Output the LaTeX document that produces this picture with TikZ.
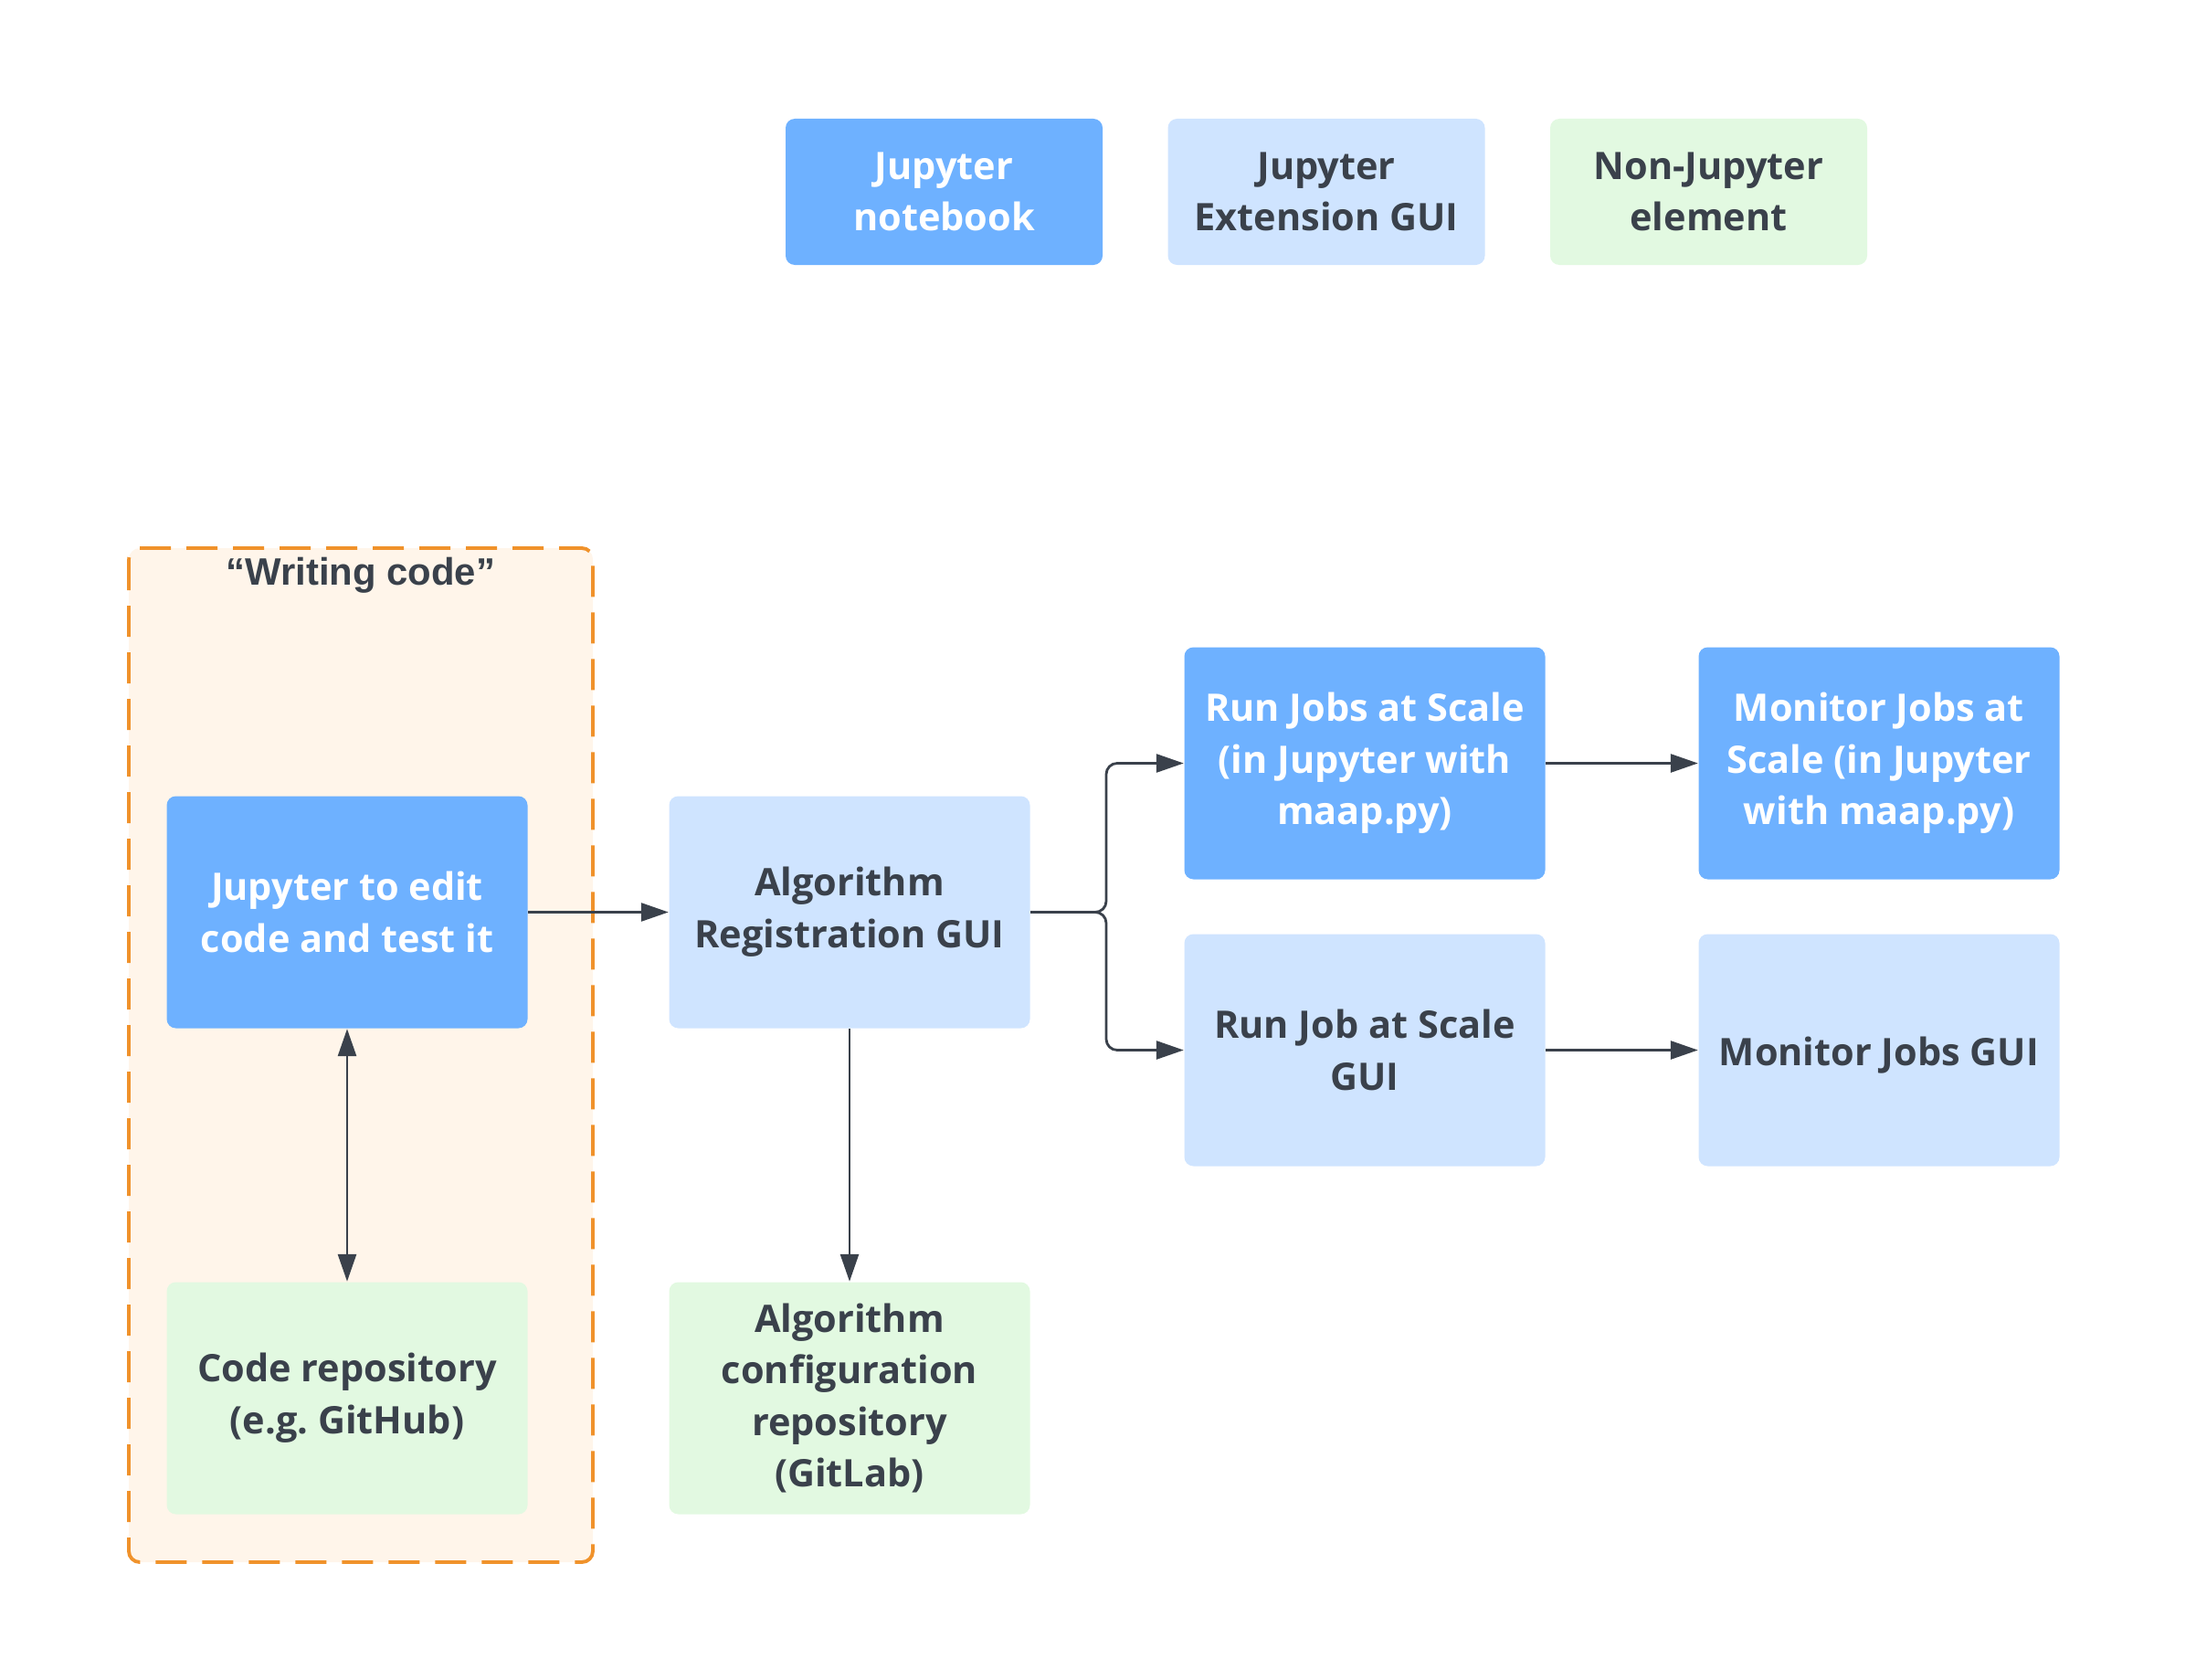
\documentclass[tikz,border=0pt]{standalone}
\usepackage{fontspec}
\setmainfont{Open Sans}
\newfontfamily\labelfont{Liberation Sans}
\usepackage{xcolor}
\usepackage{tikz}
\usetikzlibrary{arrows.meta, positioning, calc}
\definecolor{nbBlue}{HTML}{6EB1FF}
\definecolor{extBlue}{HTML}{CFE4FF}
\definecolor{otherGreen}{HTML}{E2F9E1}
\definecolor{inkDark}{HTML}{3A414B}
\definecolor{groupOrange}{HTML}{F0922B}
\definecolor{groupFill}{HTML}{FFF5EA}
\frenchspacing

\begin{document}
\begin{tikzpicture}[
  font=\fontsize{11.8}{16.1}\selectfont\bfseries,
  notebook/.style={fill=nbBlue, text=white, rounded corners=0.1cm, minimum width=3.95cm,
                   minimum height=2.54cm, align=center, execute at begin node={\rule{0pt}{12pt}}},
  extgui/.style={notebook, fill=extBlue, text=inkDark},
  external/.style={notebook, fill=otherGreen, text=inkDark},
  legend/.style={minimum width=3.47cm, minimum height=1.6cm},
  a/.style={-{Triangle[length=3mm, width=2mm]}, draw=inkDark, line width=0.8pt},
  both/.style={{Triangle[length=3mm, width=2mm]}-{Triangle[length=3mm, width=2mm]}, draw=inkDark, line width=0.8pt}
]
\useasboundingbox (0,0) rectangle (24.04,-18.39);
% legend
\node[notebook, legend] (keynb) at (10.335,-2.10) {Jupyter\\notebook};
\node[extgui, legend] (keyext) at (14.52,-2.10) {Jupyter\\Extension GUI};
\node[external, legend] (keyother) at (18.705,-2.10) {Non-Jupyter\\element};
% writing code group
\draw[groupOrange, fill=groupFill, line width=1.1pt, rounded corners=0.12cm,
      dash pattern=on 0.34cm off 0.17cm] (1.41,-6.00) rectangle (6.49,-17.10);
\node[text=inkDark, font=\labelfont\fontsize{11.9}{14}\selectfont\bfseries] (grouplabel) at (3.95,-6.30) {“Writing code”};
\node[notebook] (edit) at (3.80,-9.985) {Jupyter to edit\\code and test it};
\node[external] (repo) at (3.80,-15.305) {Code repository\\(e.g. GitHub)};
\node[extgui] (register) at (9.30,-9.985) {Algorithm\\Registration GUI};
\node[external] (config) at (9.30,-15.305) {Algorithm\\configuration\\repository\\(GitLab)};
\node[notebook] (runscale) at (14.94,-8.355) {Run Jobs at Scale\\(in Jupyter with\\maap.py)};
\node[notebook] (monscale) at (20.57,-8.355) {Monitor Jobs at\\Scale (in Jupyter\\with maap.py)};
\node[extgui] (rungui) at (14.94,-11.495) {Run Job at Scale\\GUI};
\node[extgui] (mongui) at (20.57,-11.495) {Monitor Jobs GUI};
\coordinate (split) at (12.11,-9.985);
\draw[both] (edit.south) -- (repo.north);
\draw[a] (edit.east) -- (register.west);
\draw[a] (register.south) -- (config.north);
\draw[a, rounded corners=0.12cm] (register.east) -- (split) |- (runscale.west);
\draw[a, rounded corners=0.12cm] (register.east) -- (split) |- (rungui.west);
\draw[a] (runscale.east) -- (monscale.west);
\draw[a] (rungui.east) -- (mongui.west);
\end{tikzpicture}
\end{document}
